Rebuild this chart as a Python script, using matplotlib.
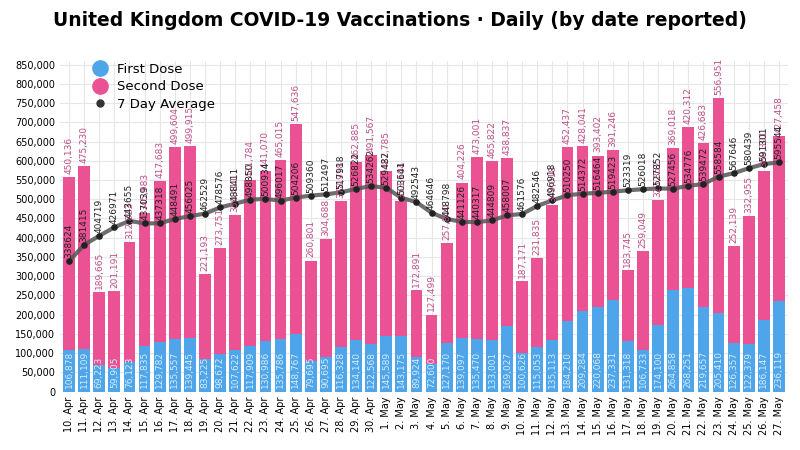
import matplotlib
matplotlib.use("Agg")
import matplotlib.pyplot as plt
from matplotlib.lines import Line2D
import numpy as np

dates = [f"{d}. Apr" for d in range(10, 31)] + [f"{d}. May" for d in range(1, 28)]
first = [106878,111109,69223,59905,76123,117835,129782,135557,139445,83225,98672,107622,117909,130986,135786,148767,
         79695,90695,116328,134140,122568,145589,143175,89924,72600,127170,139097,135470,133001,169027,100626,115053,
         135113,184210,209284,220068,237331,131318,106733,174100,264858,268251,219657,205410,126357,122379,186147,236119]
second = [450136,475230,189665,201191,312823,345983,417683,499604,499915,221193,273751,350411,431784,441070,465015,547636,
          260801,304688,378918,462885,491567,427785,353104,172891,127499,257800,404226,473001,465822,438837,187171,231835,
          349018,452437,428041,393402,391246,183745,259049,323852,369018,420312,426683,556951,252139,332955,388301,427458]
avg = [338624,381415,404719,426971,443655,437039,437318,448491,456025,462529,478576,488411,498850,500934,496017,504206,
       509360,512497,517918,526822,534262,529482,503641,492543,464646,448798,441126,440317,444809,458007,461576,482546,
       496918,510250,514372,516464,519423,523319,526018,527852,527456,534776,539472,558584,567646,580439,591301,595544]

blue = "#4ea5ea"; pink = "#ea5294"
fig, ax = plt.subplots(figsize=(8, 4.5), dpi=100)
fig.subplots_adjust(left=0.075, right=0.985, top=0.865, bottom=0.13)
x = np.arange(len(dates))
ax.bar(x, first, width=0.78, color=blue, zorder=2)
ax.bar(x, second, bottom=first, width=0.78, color=pink, zorder=2)
ax.plot(x, avg, color="#555555", lw=3, alpha=0.85, zorder=3)
ax.scatter(x, avg, color="#222222", s=14, zorder=4)
for i in range(len(x)):
    ax.text(x[i], 8000, f"{first[i]:,}", rotation=90, ha="center", va="bottom", fontsize=6.5, color="#d6ecff", zorder=5)
    ax.text(x[i], first[i] + second[i] + 8000, f"{second[i]:,}", rotation=90, ha="center", va="bottom", fontsize=6.5, color="#c0508a", zorder=5)
    ax.text(x[i], avg[i] + 8000, f"{avg[i]}", rotation=90, ha="center", va="bottom", fontsize=6.5, color="#222222", zorder=5)
ax.set_xlim(-0.6, len(x) - 0.4)
ax.set_ylim(0, 860000)
ax.set_yticks(np.arange(0, 850001, 50000))
ax.yaxis.set_major_formatter(matplotlib.ticker.FuncFormatter(lambda v, p: f"{int(v):,}"))
ax.set_xticks(x)
ax.set_xticklabels(dates, rotation=90, fontsize=7)
ax.tick_params(axis="y", labelsize=7)
ax.tick_params(length=0)
ax.grid(True, color="#e6e6e6", lw=0.8, zorder=0)
ax.set_axisbelow(True)
for s in ax.spines.values():
    s.set_visible(False)
handles = [Line2D([], [], marker="o", ls="", color=blue, markersize=11),
           Line2D([], [], marker="o", ls="", color=pink, markersize=11),
           Line2D([], [], marker="o", ls="", color="#333333", markersize=5)]
ax.legend(handles, ["First Dose", "Second Dose", "7 Day Average"], loc="upper left",
          bbox_to_anchor=(0.02, 1.03), frameon=False, fontsize=9.5, handletextpad=0.3, labelspacing=0.35)
fig.suptitle("United Kingdom COVID-19 Vaccinations · Daily (by date reported)", fontsize=13.5, fontweight="bold", y=0.975)
fig.savefig("out.png", dpi=100)
